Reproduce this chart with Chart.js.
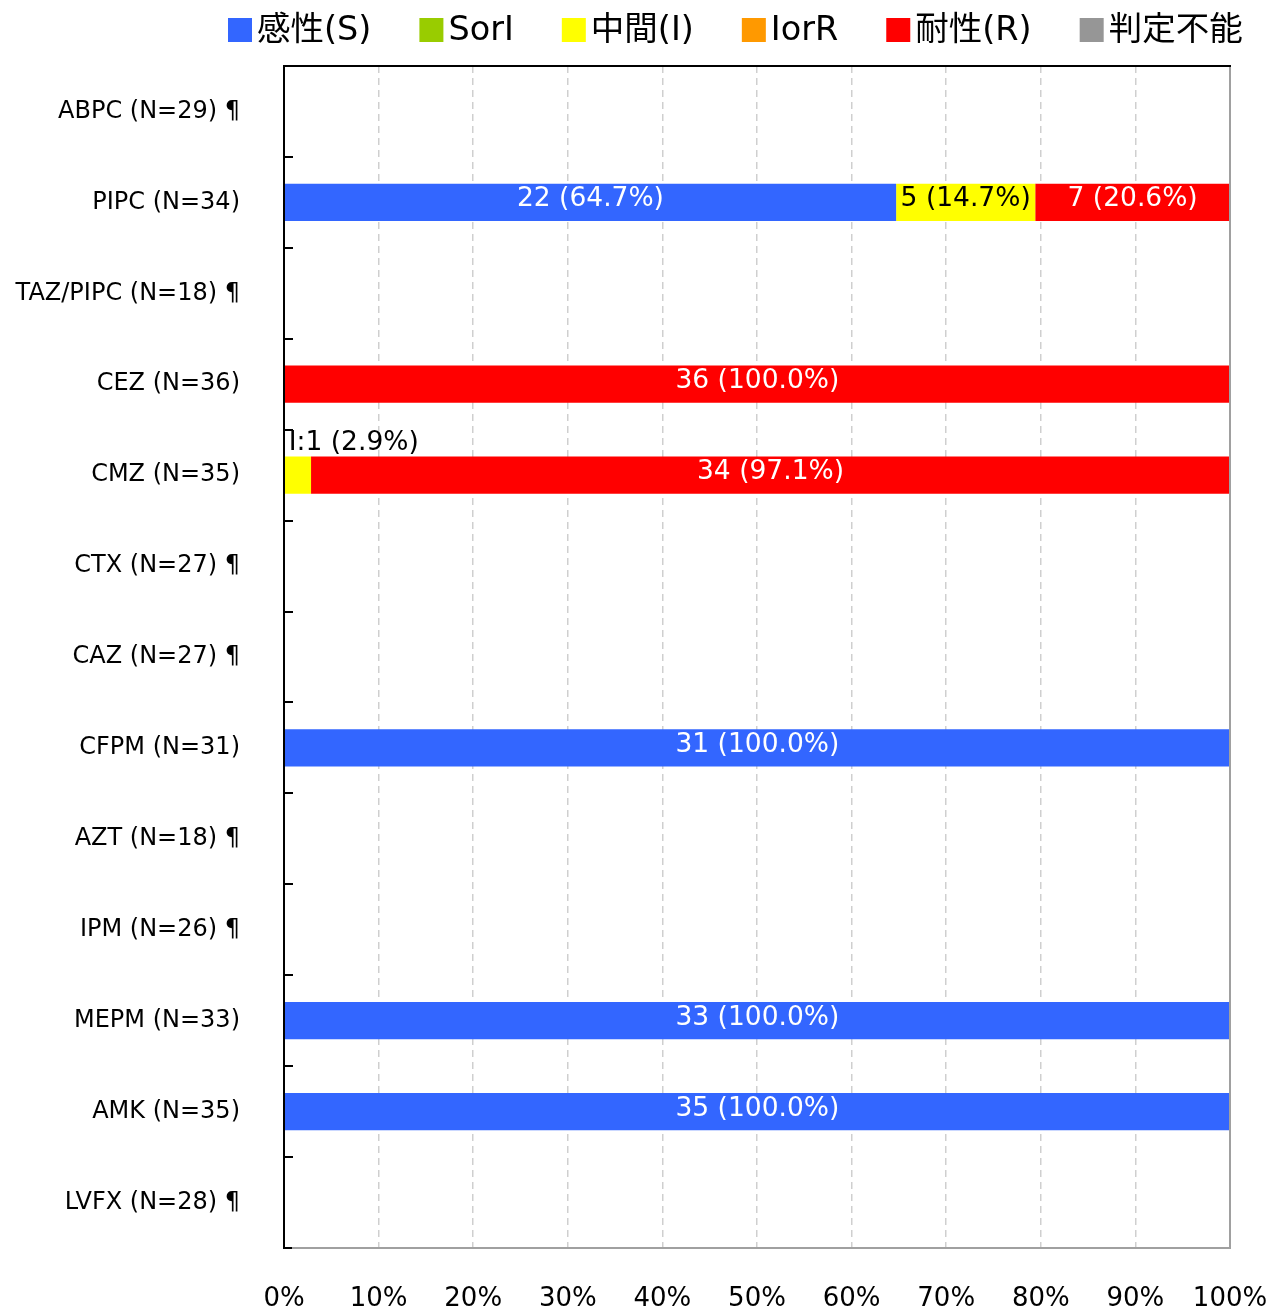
<!DOCTYPE html>
<html>
<head>
<meta charset="utf-8">
<script src="https://cdn.jsdelivr.net/npm/chart.js@4"></script>
<style>
  html, body { margin: 0; padding: 0; background: #fff; overflow: hidden; }
  #wrap { width: 1270px; height: 1308px; }
</style>
</head>
<body>
<div id="wrap"><canvas id="chart"></canvas></div>
<script>
const drugs = ['ABPC (N=29) ¶', 'PIPC (N=34)', 'TAZ/PIPC (N=18) ¶', 'CEZ (N=36)', 'CMZ (N=35)',
    'CTX (N=27) ¶', 'CAZ (N=27) ¶', 'CFPM (N=31)', 'AZT (N=18) ¶', 'IPM (N=26) ¶',
    'MEPM (N=33)', 'AMK (N=35)', 'LVFX (N=28) ¶'];
const totals = [29, 34, 18, 36, 35, 27, 27, 31, 18, 26, 33, 35, 28];

// counts per category
const susceptible  = [0, 22, 0, 0, 0, 0, 0, 31, 0, 0, 33, 35, 0];
const sOrI         = [0, 0, 0, 0, 0, 0, 0, 0, 0, 0, 0, 0, 0];
const intermediate = [0, 5, 0, 0, 1, 0, 0, 0, 0, 0, 0, 0, 0];
const iOrR         = [0, 0, 0, 0, 0, 0, 0, 0, 0, 0, 0, 0, 0];
const resistant    = [0, 7, 0, 36, 34, 0, 0, 0, 0, 0, 0, 0, 0];
const undetermined = [0, 0, 0, 0, 0, 0, 0, 0, 0, 0, 0, 0, 0];

const seriesNames = ['感性(S)', 'SorI', '中間(I)', 'IorR', '耐性(R)', '判定不能'];
const shortNames = ['S', 'SorI', 'I', 'IorR', 'R', 'ND'];
const colors = ['#3366FF', '#99CC00', '#FFFF00', '#FF9900', '#FF0000', '#969696'];
const labelColors = ['#fff', '#000', '#000', '#000', '#fff', '#000'];
const xTicks = [0, 10, 20, 30, 40, 50, 60, 70, 80, 90, 100];

const counts = [susceptible, sOrI, intermediate, iOrR, resistant, undetermined];
const FONT = '"DejaVu Sans", "Noto Sans CJK JP", sans-serif';

const datasets = counts.map((c, i) => ({
    label: seriesNames[i],
    data: c.map((v, j) => v / totals[j] * 100),
    counts: c,
    backgroundColor: colors[i],
    borderWidth: 0,
    categoryPercentage: 1,
    barPercentage: 0.41
}));

const barLabels = {
    id: 'barLabels',
    afterDatasetsDraw(chart) {
        const g = chart.ctx;
        g.save();
        g.font = '26.5px ' + FONT;
        g.textBaseline = 'middle';
        chart.data.datasets.forEach((ds, i) => {
            chart.getDatasetMeta(i).data.forEach((bar, j) => {
                const n = ds.counts[j];
                if (!n) return;
                const txt = n + ' (' + ds.data[j].toFixed(1) + '%)';
                const w = g.measureText(txt).width;
                const left = Math.min(bar.x, bar.base), right = Math.max(bar.x, bar.base);
                if (w + 2 <= right - left) {
                    g.fillStyle = labelColors[i];
                    g.textAlign = 'center';
                    g.fillText(txt, (left + right) / 2, bar.y - 3);
                } else {
                    g.fillStyle = '#000';
                    g.textAlign = 'left';
                    g.fillText(shortNames[i] + ':' + txt, left + 4, bar.y - 32);
                }
            });
        });
        g.restore();
    }
};

const frame = {
    id: 'frame',
    afterDraw(chart) {
        const a = chart.chartArea, g = chart.ctx;
        g.save();
        g.lineWidth = 2;
        g.strokeStyle = '#a0a0a0';
        g.beginPath();
        g.moveTo(a.right, a.top); g.lineTo(a.right, a.bottom);
        g.moveTo(a.left, a.bottom); g.lineTo(a.right + 1, a.bottom);
        g.stroke();
        g.strokeStyle = '#000';
        g.beginPath();
        g.moveTo(a.left - 1, a.top); g.lineTo(a.right + 1, a.top);
        g.moveTo(a.left, a.top); g.lineTo(a.left, a.bottom + 1);
        g.moveTo(a.left - 1, a.bottom); g.lineTo(a.left + 8, a.bottom);
        const step = (a.bottom - a.top) / drugs.length;
        for (let k = 1; k < drugs.length; k++) {
            const py = Math.round(a.top + k * step);
            g.moveTo(a.left, py); g.lineTo(a.left + 9, py);
        }
        g.stroke();

        // legend
        g.font = '33.5px ' + FONT;
        g.textBaseline = 'middle';
        g.textAlign = 'left';
        let x = 228;
        chart.data.datasets.forEach((ds, i) => {
            g.fillStyle = ds.backgroundColor;
            g.fillRect(x, 18, 24, 24);
            g.fillStyle = '#000';
            g.fillText(ds.label, x + 29, 31);
            x += 29 + g.measureText(ds.label).width + 48;
        });
        g.restore();
    }
};

new Chart(document.getElementById('chart'), {
    type: 'bar',
    data: { labels: drugs, datasets: datasets },
    plugins: [barLabels, frame],
    options: {
        indexAxis: 'y',
        responsive: true,
        maintainAspectRatio: false,
        animation: false,
        layout: { padding: { top: 66, right: 40, bottom: 0, left: 0 } },
        plugins: {
            legend: { display: false },
            tooltip: { enabled: false }
        },
        scales: {
            x: {
                stacked: true,
                min: 0,
                max: 100,
                afterBuildTicks(scale) { scale.ticks = xTicks.map(v => ({ value: v })); },
                afterFit(scale) {
                    scale.height = 60;
                    scale.paddingLeft = 0;
                    scale.paddingRight = 0;
                },
                ticks: {
                    callback: v => v + '%',
                    color: '#000',
                    padding: 38,
                    maxRotation: 0,
                    font: { family: FONT, size: 26, lineHeight: 1 }
                },
                grid: {
                    color: '#cfcfcf',
                    lineWidth: 1.5,
                    drawTicks: false
                },
                border: { display: false, dash: [7, 5] }
            },
            y: {
                stacked: true,
                afterFit(scale) { scale.width = 284; },
                ticks: {
                    color: '#000',
                    padding: 44,
                    font: { family: FONT, size: 24 }
                },
                grid: { display: false, drawTicks: false },
                border: { display: false }
            }
        }
    }
});
</script>
</body>
</html>
